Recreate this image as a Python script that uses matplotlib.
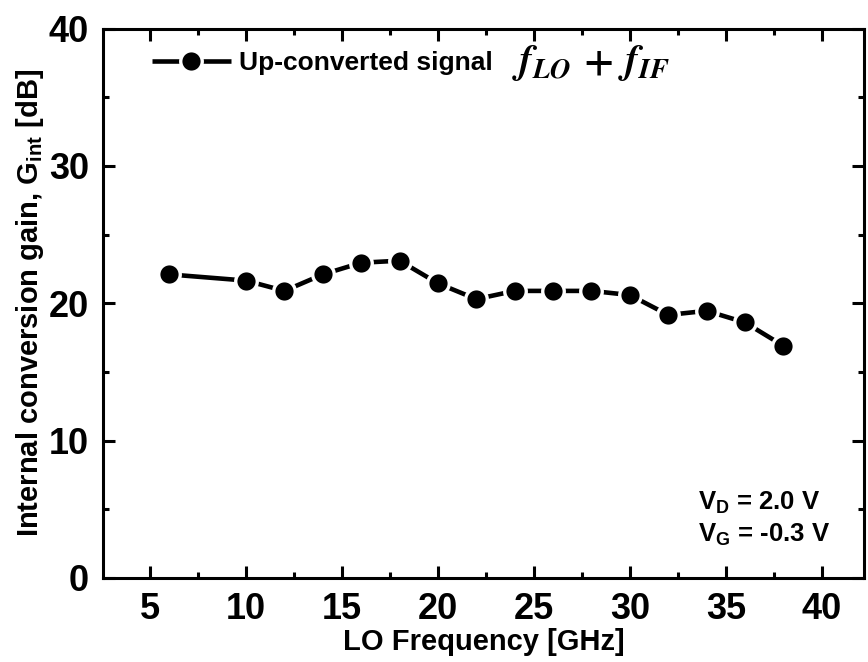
import matplotlib
matplotlib.use("Agg")
import matplotlib.pyplot as plt
from matplotlib.ticker import MultipleLocator

# LO frequency [GHz] and internal conversion gain [dB]
lo_freq = [6, 10, 12, 14, 16, 18, 20, 22, 24, 26, 28, 30, 32, 34, 36, 38]
gain = [22.1, 21.65, 20.9, 22.1, 22.95, 23.1, 21.45, 20.3,
        20.9, 20.9, 20.9, 20.6, 19.15, 19.45, 18.6, 16.9]

series_label = "Up-converted signal"
formula = r"$f_{LO}\,+\,f_{IF}$"
bias_labels = [r"V$_\mathbf{D}$ = 2.0 V", r"V$_\mathbf{G}$ = -0.3 V"]

plt.rcParams["font.family"] = ["Liberation Sans", "DejaVu Sans"]
plt.rcParams["font.weight"] = "bold"
plt.rcParams["mathtext.fontset"] = "custom"
plt.rcParams["mathtext.rm"] = "Liberation Sans"
plt.rcParams["mathtext.bf"] = "Liberation Sans:bold"
plt.rcParams["mathtext.it"] = "Liberation Sans:italic"


def main():
    fig = plt.figure(figsize=(8.68, 6.62), dpi=100)
    ax = fig.add_axes([0.1187, 0.1269, 0.8767, 0.830])

    # white marker edge gives the small gap between line and symbol
    ax.plot(lo_freq, gain, color="black", linewidth=3.3, linestyle="-",
            marker="o", markersize=15.5, markerfacecolor="black",
            markeredgecolor="white", markeredgewidth=2.4,
            label=series_label, solid_capstyle="butt")

    ax.set_xlim(2.55, 42.2)
    ax.set_ylim(0, 40)
    ax.xaxis.set_major_locator(MultipleLocator(5))
    ax.xaxis.set_minor_locator(MultipleLocator(2.5))
    ax.yaxis.set_major_locator(MultipleLocator(10))
    ax.yaxis.set_minor_locator(MultipleLocator(5))
    ax.tick_params(which="both", direction="in", top=True, right=True,
                   width=2.2, labelsize=26)
    ax.tick_params(which="major", length=8.5, pad=10)
    ax.tick_params(which="minor", length=4.5)
    for lab in ax.get_xticklabels() + ax.get_yticklabels():
        lab.set_fontweight("bold")
    for sp in ax.spines.values():
        sp.set_linewidth(2.2)

    ax.set_xlabel("LO Frequency [GHz]", fontsize=21, fontweight="bold", labelpad=1)
    ax.set_ylabel(r"Internal conversion gain, G$_{\mathrm{int}}$ [dB]",
                  fontsize=21, fontweight="bold", labelpad=2)

    leg = ax.legend(loc="center left", bbox_to_anchor=(0.064, 0.937),
                    frameon=False, fontsize=19, handlelength=3.0,
                    handletextpad=0.3, borderpad=0, borderaxespad=0)
    for t in leg.get_texts():
        t.set_fontweight("bold")

    ax.text(0.537, 0.937, formula, transform=ax.transAxes, fontsize=29,
            va="center", ha="left", math_fontfamily="stix")

    ax.text(0.782, 0.1365, bias_labels[0], transform=ax.transAxes,
            fontsize=18.5, fontweight="bold", va="center", ha="left")
    ax.text(0.782, 0.078, bias_labels[1], transform=ax.transAxes,
            fontsize=18.5, fontweight="bold", va="center", ha="left")

    fig.savefig("out.png", dpi=100)


if __name__ == "__main__":
    main()
